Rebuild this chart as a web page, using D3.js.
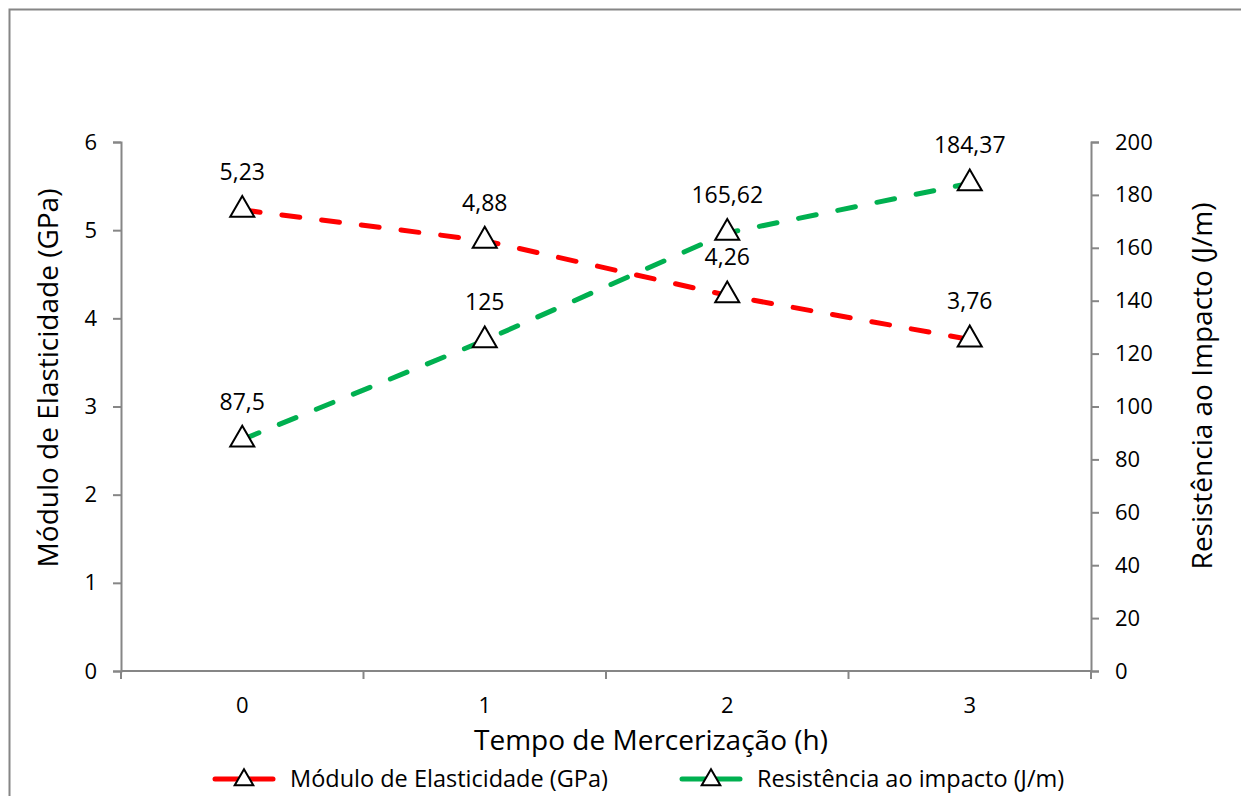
<!DOCTYPE html>
<html>
<head>
<meta charset="utf-8">
<script src="https://cdn.jsdelivr.net/npm/d3@7"></script>
<style>
  html, body { margin: 0; padding: 0; background: #fff; }
  svg text { font-family: "Open Sans", "Noto Sans", sans-serif; fill: #000; }
</style>
</head>
<body>
<svg id="chart" width="1241" height="796"></svg>
<script>
// Tempo de mercerização (h)
const categories = ["0", "1", "2", "3"];
// Módulo de elasticidade (GPa)
const modulo = [5.23, 4.88, 4.26, 3.76];
const moduloLabels = ["5,23", "4,88", "4,26", "3,76"];
// Resistência ao impacto (J/m)
const resistencia = [87.5, 125, 165.62, 184.37];
const resistenciaLabels = ["87,5", "125", "165,62", "184,37"];
const leftTicks = [0, 1, 2, 3, 4, 5, 6];
const rightTicks = [0, 20, 40, 60, 80, 100, 120, 140, 160, 180, 200];

const svg = d3.select("#chart");
const axisColor = "#868686";
const plot = { left: 121, right: 1091, top: 142, bottom: 671 };

// Outer frame
svg.append("rect")
  .attr("x", 9.5).attr("y", 9.5)
  .attr("width", 1240).attr("height", 800)
  .attr("fill", "none").attr("stroke", axisColor).attr("stroke-width", 2);

const x = d3.scaleBand().domain(categories).range([plot.left, plot.right]);
const yL = d3.scaleLinear().domain([0, 6]).range([plot.bottom, plot.top]);
const yR = d3.scaleLinear().domain([0, 200]).range([plot.bottom, plot.top]);
const cx = c => x(c) + x.bandwidth() / 2;

function styleAxis(g) {
  g.select(".domain").attr("stroke", axisColor).attr("stroke-width", 2);
  g.selectAll(".tick line").attr("stroke", axisColor).attr("stroke-width", 2);
  g.selectAll(".tick text").style("font-size", "22px");
}

// Left axis
svg.append("g")
  .attr("transform", `translate(${plot.left},0)`)
  .call(d3.axisLeft(yL).tickValues(leftTicks).tickSize(8).tickSizeOuter(8).tickPadding(16).tickFormat(d3.format("d")))
  .call(styleAxis);

// Right axis
svg.append("g")
  .attr("transform", `translate(${plot.right},0)`)
  .call(d3.axisRight(yR).tickValues(rightTicks).tickSize(8).tickSizeOuter(8).tickPadding(16).tickFormat(d3.format("d")))
  .call(styleAxis);

// Bottom category axis: ticks sit between categories
const xAxis = svg.append("g").attr("transform", `translate(0,${plot.bottom})`);
xAxis.append("line")
  .attr("x1", plot.left).attr("x2", plot.right)
  .attr("stroke", axisColor).attr("stroke-width", 2);
const bounds = categories.map(c => x(c)).concat([x(categories[categories.length - 1]) + x.bandwidth()]);
xAxis.selectAll("line.sep").data(bounds).join("line")
  .attr("class", "sep")
  .attr("x1", d => d).attr("x2", d => d)
  .attr("y1", 0).attr("y2", 8)
  .attr("stroke", axisColor).attr("stroke-width", 2);
xAxis.selectAll("text").data(categories).join("text")
  .attr("x", d => cx(d)).attr("y", 42)
  .attr("text-anchor", "middle")
  .style("font-size", "22px")
  .text(d => d);

// Axis titles
svg.append("text")
  .attr("x", 651).attr("y", 750)
  .attr("text-anchor", "middle")
  .style("font-size", "28px")
  .text("Tempo de Mercerização (h)");
svg.append("text")
  .attr("transform", "translate(58,378) rotate(-90)")
  .attr("text-anchor", "middle")
  .style("font-size", "28px")
  .text("Módulo de Elasticidade (GPa)");
svg.append("text")
  .attr("transform", "translate(1212,386) rotate(-90)")
  .attr("text-anchor", "middle")
  .style("font-size", "28px")
  .text("Resistência ao Impacto (J/m)");

const triangle = d3.symbol().type(d3.symbolTriangle).size(250);

function drawSeries(values, labels, y, color) {
  const line = d3.line().x((d, i) => cx(categories[i])).y(d => y(d));
  svg.append("path")
    .datum(values)
    .attr("d", line)
    .attr("fill", "none")
    .attr("stroke", color)
    .attr("stroke-width", 5)
    .attr("stroke-dasharray", "18,22")
    .attr("stroke-linecap", "round");
  svg.append("g").selectAll("path").data(values).join("path")
    .attr("d", triangle)
    .attr("transform", (d, i) => `translate(${cx(categories[i])},${y(d)})`)
    .attr("fill", "#fff")
    .attr("stroke", "#000")
    .attr("stroke-width", 2);
  svg.append("g").selectAll("text").data(values).join("text")
    .attr("x", (d, i) => cx(categories[i]))
    .attr("y", d => y(d) - 30)
    .attr("text-anchor", "middle")
    .style("font-size", "23px")
    .text((d, i) => labels[i]);
}

drawSeries(modulo, moduloLabels, yL, "#FF0000");
drawSeries(resistencia, resistenciaLabels, yR, "#00B050");

// Legend
const legend = [
  { name: "Módulo de Elasticidade (GPa)", color: "#FF0000", x: 213 },
  { name: "Resistência ao impacto (J/m)", color: "#00B050", x: 680 }
];
const lg = svg.append("g").selectAll("g").data(legend).join("g")
  .attr("transform", d => `translate(${d.x},779)`);
lg.append("line")
  .attr("x1", 2).attr("x2", 60)
  .attr("stroke", d => d.color).attr("stroke-width", 5).attr("stroke-linecap", "round");
lg.append("path")
  .attr("d", d3.symbol().type(d3.symbolTriangle).size(150))
  .attr("transform", "translate(31,1)")
  .attr("fill", "#fff").attr("stroke", "#000").attr("stroke-width", 2);
lg.append("text")
  .attr("x", 77).attr("y", 8)
  .style("font-size", "23.5px")
  .text(d => d.name);
</script>
</body>
</html>
